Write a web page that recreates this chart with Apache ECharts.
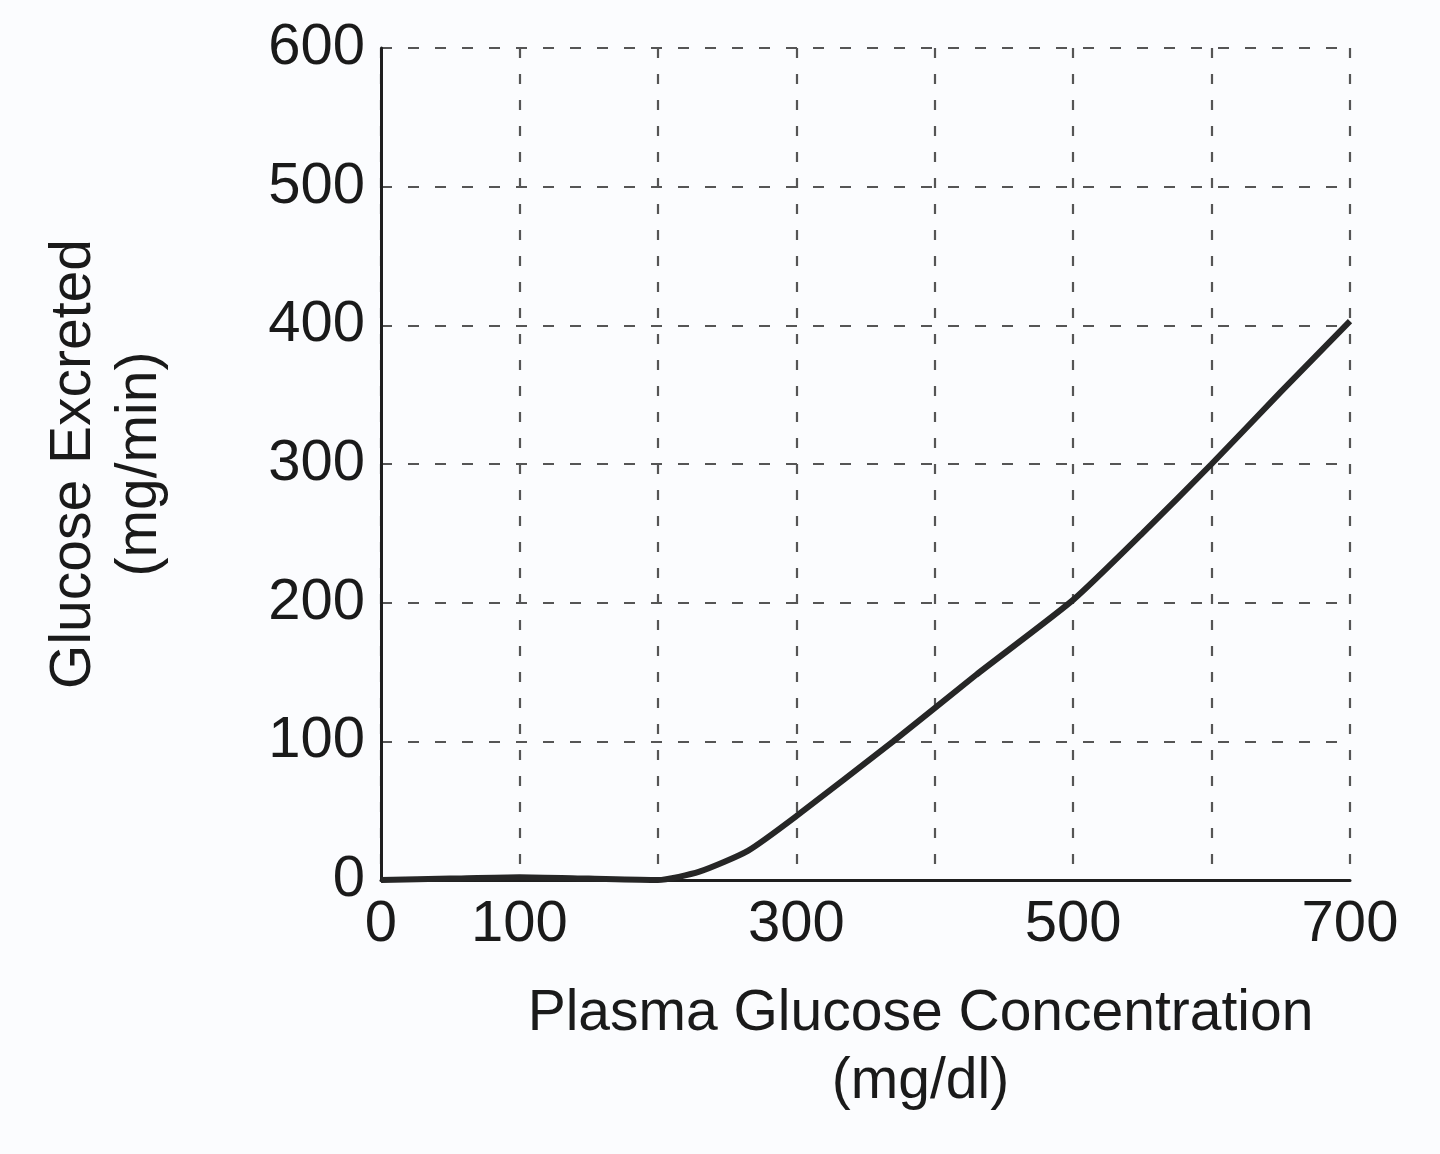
<!DOCTYPE html>
<html>
<head>
<meta charset="utf-8">
<script src="https://cdn.jsdelivr.net/npm/echarts@6/dist/echarts.min.js"></script>
<style>
  html, body { margin: 0; padding: 0; background: #fbfcfe; }
  #chart { width: 1440px; height: 1154px; }
</style>
</head>
<body>
<div id="chart"></div>
<script>
// plasma glucose (mg/dl) vs glucose excreted (mg/min)
const plasmaGlucose = [0, 50, 100, 150, 200, 230, 265, 300, 370, 430, 500, 550, 600, 650, 700]
const glucoseExcreted = [0, 1, 2, 1, 0, 6, 21, 46, 100, 148, 202, 250, 300, 352, 403]
// only these x ticks carry a label in the original
const xTickLabels = [0, 100, 300, 500, 700]

const font = '"Liberation Sans", Arial, sans-serif'
const myChart = echarts.init(document.getElementById('chart'))
myChart.setOption({
  backgroundColor: '#fbfcfe',
  animation: false,
  grid: [{
    left: 381,
    right: 90,
    top: 48,
    bottom: 274
  }],
  xAxis: [{
    type: 'value',
    min: 0,
    max: 700,
    interval: 100,
    name: 'Plasma Glucose Concentration\n(mg/dl)',
    nameLocation: 'middle',
    nameGap: 100,
    nameTextStyle: {
      fontFamily: font,
      fontSize: 57,
      color: '#1a1a1a',
      lineHeight: 68,
      padding: [0, 0, 0, 110]
    },
    axisLine: { lineStyle: { color: '#1e1e1e', width: 3 } },
    axisTick: { show: false },
    axisLabel: {
      margin: 16,
      fontFamily: font,
      fontSize: 58,
      color: '#1a1a1a',
      formatter: v => xTickLabels.includes(v) ? String(v) : ''
    },
    splitLine: {
      show: true,
      lineStyle: { color: '#555', width: 2.2, type: [10, 16] }
    }
  }],
  yAxis: [{
    type: 'value',
    min: 0,
    max: 600,
    interval: 100,
    name: 'Glucose Excreted\n(mg/min)',
    nameLocation: 'middle',
    nameGap: 208,
    nameRotate: 90,
    nameTextStyle: {
      fontFamily: font,
      fontSize: 57,
      color: '#1a1a1a',
      lineHeight: 66
    },
    axisLine: { show: true, lineStyle: { color: '#1e1e1e', width: 3 } },
    axisTick: { show: false },
    axisLabel: {
      margin: 16,
      fontFamily: font,
      fontSize: 58,
      color: '#1a1a1a'
    },
    splitLine: {
      show: true,
      lineStyle: { color: '#555', width: 2.2, type: [11, 16] }
    }
  }],
  series: [{
    type: 'line',
    data: plasmaGlucose.map((x, i) => [x, glucoseExcreted[i]]),
    showSymbol: false,
    smooth: 0.2,
    clip: false,
    lineStyle: { color: '#262626', width: 6 }
  }]
})
window.addEventListener('resize', () => { myChart.resize() })
</script>
</body>
</html>
